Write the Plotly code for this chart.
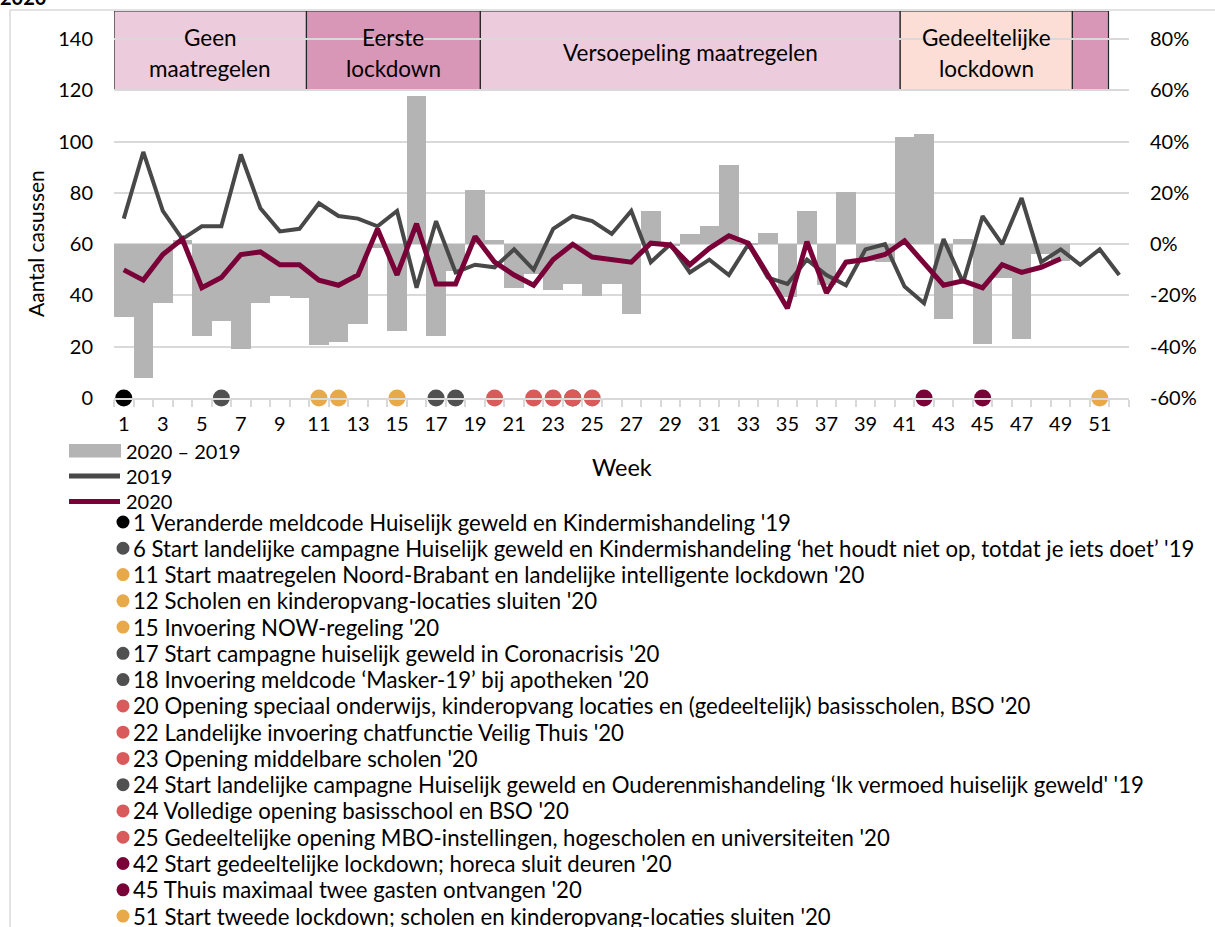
import plotly.graph_objects as go

# ---------------- data ----------------
weeks = list(range(1, 53))
week_labels = [str(w) for w in range(1, 52, 2)]
week_ticks = list(range(1, 52, 2))

cases_2019 = [70, 96, 73, 62, 67, 67, 95, 74, 65, 66, 76, 71, 70, 67, 73, 43, 69, 49, 52, 51,
              58, 50, 66, 71, 69, 64, 73, 53, 60, 49, 54, 48, 60, 47, 44.5, 54, 48, 44, 58, 60,
              43.5, 37, 62, 45, 71, 60, 78, 53, 58, 52, 58, 48]
cases_2020 = [50, 46, 56, 62, 43, 47, 56, 57, 52, 52, 46, 44, 48, 66, 48, 68, 44.5, 44.5, 63, 53,
              48, 44, 54, 60, 55, 54, 53, 60.4, 59.7, 52, 58.4, 63.3, 60.4, 48, 35, 61, 41, 53, 54, 56,
              61.3, 52.6, 44, 45.7, 43, 52, 49, 51, 54.3]
diff_pct = [-28.5, -52, -23, 1.7, -36, -30, -41, -23, -20.3, -21, -39.3, -38, -31.3, -1.5, -34, 58,
            -36, -10.3, 21, 1.7, -17.2, -11.6, -18, -15.5, -20.2, -15.5, -27.3, 13, -0.5, 4, 7.3, 31,
            0.5, 4.2, -20.4, 12.9, -16, 20.3, -6.5, -6.8, 41.7, 43, -29, 2.1, -39, -13.3, -37, -4, -6.5]

pct_ticks = [-60, -40, -20, 0, 20, 40, 60, 80]
pct_labels = ["-60%", "-40%", "-20%", "0%", "20%", "40%", "60%", "80%"]
count_ticks = [0, 20, 40, 60, 80, 100, 120, 140]

periods = ["Geen<br>maatregelen", "Eerste<br>lockdown", "Versoepeling maatregelen",
           "Gedeeltelijke<br>lockdown", ""]
period_start = [0.5, 10.36, 19.27, 40.78, 49.6]
period_end = [10.36, 19.27, 40.78, 49.6, 51.45]
period_colors = ["#ECCBDD", "#D997B8", "#ECCBDD", "#FCDED6", "#D997B8"]

event_weeks = [1, 6, 11, 12, 15, 17, 18, 20, 22, 23, 24, 24, 25, 42, 45, 51]
event_colors = ["#000000", "#505050", "#E8A94A", "#E8A94A", "#E8A94A", "#505050", "#505050",
                "#D95A5A", "#D95A5A", "#D95A5A", "#505050", "#D95A5A", "#D95A5A",
                "#7A0038", "#7A0038", "#E8A94A"]
event_texts = [
    "1 Veranderde meldcode Huiselijk geweld en Kindermishandeling '19",
    "6 Start landelijke campagne Huiselijk geweld en Kindermishandeling \u2018het houdt niet op, totdat je iets doet\u2019 '19",
    "11 Start maatregelen Noord-Brabant en landelijke intelligente lockdown '20",
    "12 Scholen en kinderopvang-locaties sluiten '20",
    "15 Invoering NOW-regeling '20",
    "17 Start campagne huiselijk geweld in Coronacrisis '20",
    "18 Invoering meldcode \u2018Masker-19\u2019 bij apotheken '20",
    "20 Opening speciaal onderwijs, kinderopvang locaties en (gedeeltelijk) basisscholen, BSO '20",
    "22 Landelijke invoering chatfunctie Veilig Thuis '20",
    "23 Opening middelbare scholen '20",
    "24 Start landelijke campagne Huiselijk geweld en Ouderenmishandeling \u2018Ik vermoed huiselijk geweld' '19",
    "24 Volledige opening basisschool en BSO '20",
    "25 Gedeeltelijke opening MBO-instellingen, hogescholen en universiteiten '20",
    "42 Start gedeeltelijke lockdown; horeca sluit deuren '20",
    "45 Thuis maximaal twee gasten ontvangen '20",
    "51 Start tweede lockdown; scholen en kinderopvang-locaties sluiten '20",
]

# ---------------- layout helpers ----------------
W, H = 1215, 927
ML, MR, MT, MB = 114, 86, 11, 529
PW, PH = W - ML - MR, H - MT - MB
FONT = "Lato"
C2019 = "#484848"
C2020 = "#7A0038"
CBAR = "#B4B4B4"
GRID = "#D9D9D9"


def px(xp):
    return (xp - ML) / PW


def py(yp):
    return (MT + PH - yp) / PH


fig = go.Figure()

# bars on base (right) axis
fig.add_trace(go.Bar(x=weeks[:len(diff_pct)], y=diff_pct, width=1.0, marker_color=CBAR,
                     marker_line_width=0, name="2020 \u2013 2019", yaxis="y", showlegend=False))
# lines on the overlaying (left) axis
fig.add_trace(go.Scatter(x=weeks, y=cases_2019, mode="lines", name="2019",
                         line=dict(color=C2019, width=4), yaxis="y2", showlegend=False))
fig.add_trace(go.Scatter(x=weeks[:len(cases_2020)], y=cases_2020, mode="lines", name="2020",
                         line=dict(color=C2020, width=5), yaxis="y2", showlegend=False))
fig.add_trace(go.Scatter(x=event_weeks, y=[0] * len(event_weeks), mode="markers",
                         marker=dict(color=event_colors, size=17, line_width=0),
                         yaxis="y2", cliponaxis=False, showlegend=False))

shapes = []
annotations = []
BOXFONT = dict(family=FONT, size=22.5, color="#000")

# period boxes
for lab, s, e, c in zip(periods, period_start, period_end, period_colors):
    shapes.append(dict(type="rect", xref="x", yref="y2", x0=s, x1=e, y0=120, y1=151,
                       fillcolor=c, line=dict(color="#262626", width=1.2), layer="below"))
    lines = lab.split("<br>") if lab else []
    xc = (s + e) / 2
    if len(lines) == 1:
        annotations.append(dict(xref="x", yref="y2", x=xc, y=134.8, text=lines[0], showarrow=False,
                                xanchor="center", yanchor="middle", font=BOXFONT))
    elif len(lines) == 2:
        annotations.append(dict(xref="x", yref="y2", x=xc, y=140.7, text=lines[0], showarrow=False,
                                xanchor="center", yanchor="middle", font=BOXFONT))
        annotations.append(dict(xref="x", yref="y2", x=xc, y=128.6, text=lines[1], showarrow=False,
                                xanchor="center", yanchor="middle", font=BOXFONT))

# outer frame
shapes.append(dict(type="line", xref="paper", yref="paper", x0=px(10), x1=px(1216), y0=py(10), y1=py(10),
                   line=dict(color=GRID, width=1.5)))
shapes.append(dict(type="line", xref="paper", yref="paper", x0=px(10), x1=px(10), y0=py(10), y1=py(928),
                   line=dict(color=GRID, width=1.5)))

# cut-off title
annotations.append(dict(xref="paper", yref="paper", x=px(-2), y=py(-3), xanchor="left", yanchor="middle",
                        text="<b>2020</b>", showarrow=False, font=dict(family=FONT, size=20, color="#000")))

# axis titles
annotations.append(dict(xref="paper", yref="paper", x=px(35), y=py(244), text="Aantal casussen",
                        xanchor="center", yanchor="middle",
                        textangle=-90, showarrow=False, font=dict(family=FONT, size=21, color="#000")))
annotations.append(dict(xref="paper", yref="paper", x=px(622), y=py(467), text="Week",
                        xanchor="center", yanchor="middle",
                        showarrow=False, font=dict(family=FONT, size=23.5, color="#000")))

# manual legend for series
shapes.append(dict(type="rect", xref="paper", yref="paper", x0=px(69), x1=px(121), y0=py(457.5), y1=py(444),
                   fillcolor=CBAR, line_width=0))
for yy, col in [(476, C2019), (501.5, C2020)]:
    shapes.append(dict(type="line", xref="paper", yref="paper", x0=px(69), x1=px(120), y0=py(yy), y1=py(yy),
                       line=dict(color=col, width=5)))
for yy, t in [(450.5, "2020 \u2013 2019"), (476, "2019"), (501, "2020")]:
    annotations.append(dict(xref="paper", yref="paper", x=px(124), y=py(yy), xanchor="left", yanchor="middle",
                            text=t, showarrow=False, font=dict(family=FONT, size=20, color="#000")))

# events list
for i, (t, c) in enumerate(zip(event_texts, event_colors)):
    yy = 522 + i * 26.27
    r = 6.5
    shapes.append(dict(type="circle", xref="paper", yref="paper", x0=px(123 - r), x1=px(123 + r),
                       y0=py(yy + r), y1=py(yy - r), fillcolor=c, line_width=0))
    annotations.append(dict(xref="paper", yref="paper", x=px(131), y=py(yy), xanchor="left", yanchor="middle",
                            text=t, showarrow=False, font=dict(family=FONT, size=22.2, color="#000")))

fig.update_layout(
    width=W, height=H, autosize=False,
    margin=dict(l=ML, r=MR, t=MT, b=MB, pad=0),
    paper_bgcolor="white", plot_bgcolor="white",
    font=dict(family=FONT, size=20, color="#000"),
    bargap=0, showlegend=False,
    xaxis=dict(range=[0.5, 52.5], tickvals=week_ticks, ticktext=week_labels, showgrid=False,
               zeroline=False, showline=True, linecolor=GRID, linewidth=1.5,
               ticks="outside", ticklen=7, tickcolor="rgba(0,0,0,0)",
               minor=dict(tick0=0.5, dtick=1, ticks="outside", ticklen=7, tickcolor=GRID, tickwidth=1.5,
                          showgrid=False),
               tickfont=dict(family=FONT, size=20, color="#000")),
    yaxis=dict(side="right", range=[-60, 91], tickvals=pct_ticks, ticktext=pct_labels,
               showgrid=True, gridcolor=GRID, gridwidth=1.5, zeroline=False,
               ticks="outside", ticklen=16, tickcolor="rgba(0,0,0,0)",
               tickfont=dict(family=FONT, size=20, color="#000")),
    yaxis2=dict(side="left", overlaying="y", range=[0, 151], tickvals=count_ticks,
                showgrid=False, zeroline=False, ticks="outside", ticklen=16, tickcolor="rgba(0,0,0,0)",
                tickfont=dict(family=FONT, size=20, color="#000")),
    shapes=shapes, annotations=annotations,
)

fig.write_html("out.html", config={"displayModeBar": False},
               post_script="document.body.style.margin='0';")
